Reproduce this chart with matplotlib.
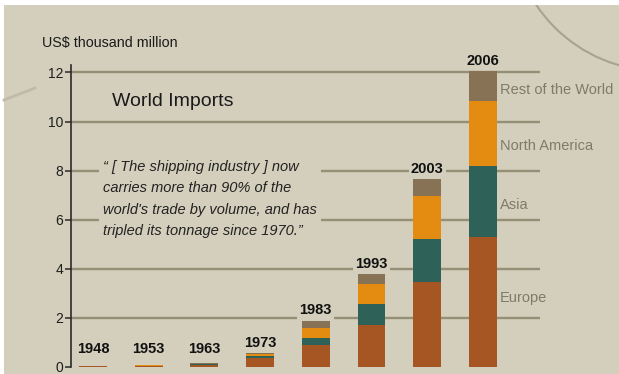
import numpy as np
import matplotlib
matplotlib.use("Agg")
import matplotlib.pyplot as plt
from matplotlib.patches import Rectangle, Circle
from matplotlib.lines import Line2D

# World imports by region, US$ thousand million
years = ['1948', '1953', '1963', '1973', '1983', '1993', '2003', '2006']
europe = [0.04, 0.05, 0.10, 0.36, 0.90, 1.71, 3.47, 5.28]
asia = [0.01, 0.01, 0.02, 0.07, 0.28, 0.85, 1.73, 2.92]
north_america = [0.01, 0.01, 0.02, 0.09, 0.40, 0.81, 1.76, 2.63]
rest_of_world = [0.00, 0.01, 0.01, 0.05, 0.30, 0.41, 0.68, 1.22]
regions = ['Europe', 'Asia', 'North America', 'Rest of the World']
yticks = [0, 2, 4, 6, 8, 10, 12]

bg = (212/255, 207/255, 188/255)
grid_c = (150/255, 143/255, 120/255)
colors = [(165/255, 86/255, 34/255), (46/255, 98/255, 88/255),
          (228/255, 140/255, 18/255), (136/255, 114/255, 86/255)]
sans = ['Liberation Sans', 'DejaVu Sans']

fig = plt.figure(figsize=(6.19, 3.74), dpi=100)
fig.patch.set_facecolor('white')
panel = Rectangle((4/619, 0), 1, 369/374, transform=fig.transFigure,
                  facecolor=bg, edgecolor='none', zorder=-10)
fig.patches.append(panel)

# faint decorative strokes
fig.lines.append(Line2D([4/619, 35/619], [274/374, 286/374], transform=fig.transFigure,
                        color=(192/255, 186/255, 166/255), lw=2, zorder=-9))
arc = Circle((6.60, 4.52), 1.49, transform=fig.dpi_scale_trans, fill=False,
             edgecolor=(168/255, 162/255, 142/255), lw=1.5, zorder=-9)
fig.patches.append(arc)
arc.set_clip_path(panel)

ax = fig.add_axes([71/619, 7/374, 469/619, 362/374])
ax.set_facecolor('none')
ax.set_xlim(-0.395, 8.025)
ax.set_ylim(0, 14.75)

for s in ['top', 'right', 'bottom']:
    ax.spines[s].set_visible(False)
ax.spines['left'].set_bounds(0, 12.3)
ax.spines['left'].set_color('#2a2a2a')
ax.spines['left'].set_linewidth(1.2)
ax.set_xticks([])
ax.set_yticks(yticks)
ax.tick_params(axis='y', direction='out', length=4.5, width=1.1, color='#2a2a2a',
               pad=1, labelsize=10)
for lab in ax.get_yticklabels():
    lab.set_family(sans)
    lab.set_color('#1e1e1e')

for v in yticks[1:]:
    ax.axhline(v, color=grid_c, lw=1.7, zorder=1)

x = np.arange(len(years))
series = [europe, asia, north_america, rest_of_world]
bottom = np.zeros(len(years))
for vals, col in zip(series, colors):
    ax.bar(x, vals, 0.5, bottom=bottom, color=col, zorder=3)
    bottom += np.array(vals)

for xi, yr, tot in zip(x, years, bottom):
    ax.annotate(yr, (xi, max(tot, 0.3)), xytext=(0, 2.5), textcoords='offset points',
                ha='center', va='bottom', fontsize=10.5, fontweight='bold',
                family=sans, color='#111111', zorder=4,
                bbox=dict(boxstyle='square,pad=0.15', fc=bg, ec='none'))

# region names beside the last bar
label_y = [2.8, 6.6, 9.0, 11.3]
for name, ly in zip(regions, label_y):
    ax.text(7.31, ly, name, ha='left', va='center', fontsize=10.5, family=sans,
            color=(128/255, 123/255, 105/255), zorder=4, clip_on=False)

fig.text(42/619, 1 - 43/374, 'US$ thousand million', ha='left', va='center',
         fontsize=10.3, family=sans, color='#1a1a1a')
fig.text(112/619, 1 - 101/374, 'World Imports', ha='left', va='center',
         fontsize=14, family=sans, color='#1a1a1a')
quote = ('\u201c [ The shipping industry ] now\n'
         'carries more than 90% of the\n'
         "world's trade by volume, and has\n"
         'tripled its tonnage since 1970.\u201d')
fig.text(103/619, 1 - 199/374, quote, ha='left', va='center', fontsize=10.5,
         style='italic', family=sans, color='#222222', linespacing=1.65, zorder=5,
         bbox=dict(boxstyle='square,pad=0.3', fc=bg, ec='none'))

fig.savefig('out.png', dpi=100, facecolor='white')
